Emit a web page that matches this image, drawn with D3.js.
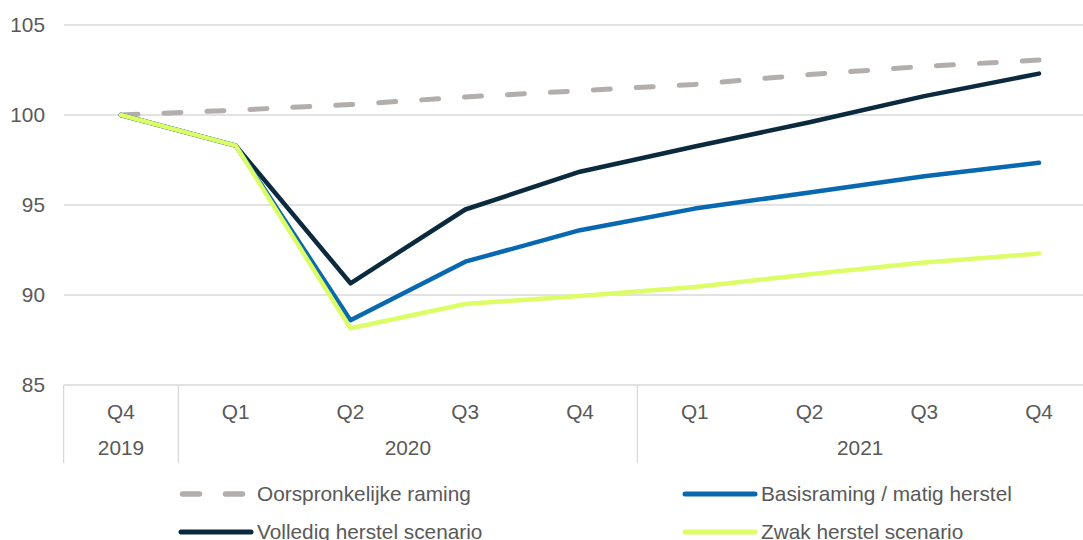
<!DOCTYPE html>
<html><head><meta charset="utf-8">
<script src="https://cdn.jsdelivr.net/npm/d3@7"></script>
<style>
html,body{margin:0;padding:0;background:#fff;overflow:hidden}
text{font-family:"Liberation Sans",Arial,sans-serif}
</style></head>
<body><svg id="c" width="1083" height="540"></svg>
<script>
const quarters = ["Q4","Q1","Q2","Q3","Q4","Q1","Q2","Q3","Q4"];
const years = ["2019","2020","2020","2020","2020","2021","2021","2021","2021"];
const yTicks = [85, 90, 95, 100, 105];
const oorspronkelijk = [100, 100.27, 100.58, 101.0, 101.35, 101.7, 102.25, 102.7, 103.05];
const volledig = [100, 98.3, 90.65, 94.75, 96.85, 98.25, 99.6, 101.05, 102.3];
const basis = [100, 98.3, 88.6, 91.85, 93.6, 94.8, 95.7, 96.6, 97.35];
const zwak = [100, 98.3, 88.15, 89.5, 89.95, 90.45, 91.15, 91.8, 92.3];
const seriesNames = ["Oorspronkelijke raming","Basisraming / matig herstel","Volledig herstel scenario","Zwak herstel scenario"];

const W = 1083, H = 540;
const FS = 20.8;
const svg = d3.select("#c");
const idx = quarters.map((d,i)=>i);
const x = d3.scaleBand().domain(idx).range([63.6, 1096.4]).padding(0);
const y = d3.scaleLinear().domain([85,105]).range([385,25]);
const cx = i => x(i) + x.bandwidth()/2;

// gridlines
svg.append("g").selectAll("line").data(yTicks).join("line")
  .attr("x1", 64).attr("x2", W).attr("y1", d=>y(d)).attr("y2", d=>y(d))
  .attr("stroke", "#d9d9d9").attr("stroke-width", 1.3);

// y axis labels
const yAxis = d3.axisLeft(y).tickValues(yTicks).tickSize(0).tickPadding(0);
const gy = svg.append("g").attr("transform","translate(45,0)").call(yAxis);
gy.select(".domain").remove();
gy.selectAll("text").attr("font-size", FS).attr("fill", "#595959")
  .attr("font-family", '"Liberation Sans",Arial,sans-serif');

// x axis quarter labels
const xAxis = d3.axisBottom(x).tickFormat(i=>quarters[i]).tickSize(0).tickPadding(0);
const gx = svg.append("g").attr("transform","translate(0,404)").call(xAxis);
gx.select(".domain").remove();
gx.selectAll("text").attr("font-size", FS).attr("fill", "#595959")
  .attr("font-family", '"Liberation Sans",Arial,sans-serif');

// year groups
const groups = [];
years.forEach((yr,i)=>{
  if (!groups.length || groups[groups.length-1].year !== yr) groups.push({year:yr, start:i, end:i});
  else groups[groups.length-1].end = i;
});
svg.append("g").selectAll("line").data(groups).join("line")
  .attr("x1", g=>x(g.start)).attr("x2", g=>x(g.start)).attr("y1", 385).attr("y2", 463)
  .attr("stroke", "#d9d9d9").attr("stroke-width", 1.3);
svg.append("g").selectAll("text").data(groups).join("text")
  .attr("x", g => (x(g.start) + Math.min(x(g.end)+x.bandwidth(), W))/2)
  .attr("y", 455).attr("text-anchor","middle")
  .attr("font-size", FS).attr("fill", "#595959").text(g=>g.year);

// lines (drawing order: grey, dark, blue, green on top)
const sOor = {name: seriesNames[0], values: oorspronkelijk, color:"#b3aeac", dash:"17,26", w:5};
const sBas = {name: seriesNames[1], values: basis, color:"#0868b0", dash:null, w:4.5};
const sVol = {name: seriesNames[2], values: volledig, color:"#0c2a3e", dash:null, w:4.5};
const sZwa = {name: seriesNames[3], values: zwak, color:"#dcfd66", dash:null, w:4.5};
const line = d3.line().x((d,i)=>cx(i)).y(d=>y(d));
svg.append("g").selectAll("path").data([sOor, sVol, sBas, sZwa]).join("path")
  .attr("d", s=>line(s.values)).attr("fill","none")
  .attr("stroke", s=>s.color).attr("stroke-width", s=>s.w)
  .attr("stroke-linejoin","round").attr("stroke-linecap","round")
  .attr("stroke-dasharray", s=>s.dash);

// legend: row1 Oorspronkelijke | Basisraming ; row2 Volledig | Zwak
const legendSeries = [sOor, sBas, sVol, sZwa];
const legendPos = [{x:180,y:494},{x:684,y:494},{x:180,y:532},{x:684,y:532}];
const L = svg.append("g").selectAll("g").data(legendSeries).join("g")
  .attr("transform",(d,i)=>`translate(${legendPos[i].x},${legendPos[i].y})`);
L.append("line").attr("x1", d=>d.dash?2.5:1).attr("x2", d=>d.dash?65:71).attr("y1",0).attr("y2",0)
  .attr("stroke", d=>d.color).attr("stroke-width", d=>d.dash?5.5:5)
  .attr("stroke-linecap","round").attr("stroke-dasharray", d=>d.dash ? "17,26" : null);
L.append("text").attr("x", 77).attr("y", 7).attr("font-size", FS).attr("fill","#595959").text(d=>d.name);
</script></body></html>
